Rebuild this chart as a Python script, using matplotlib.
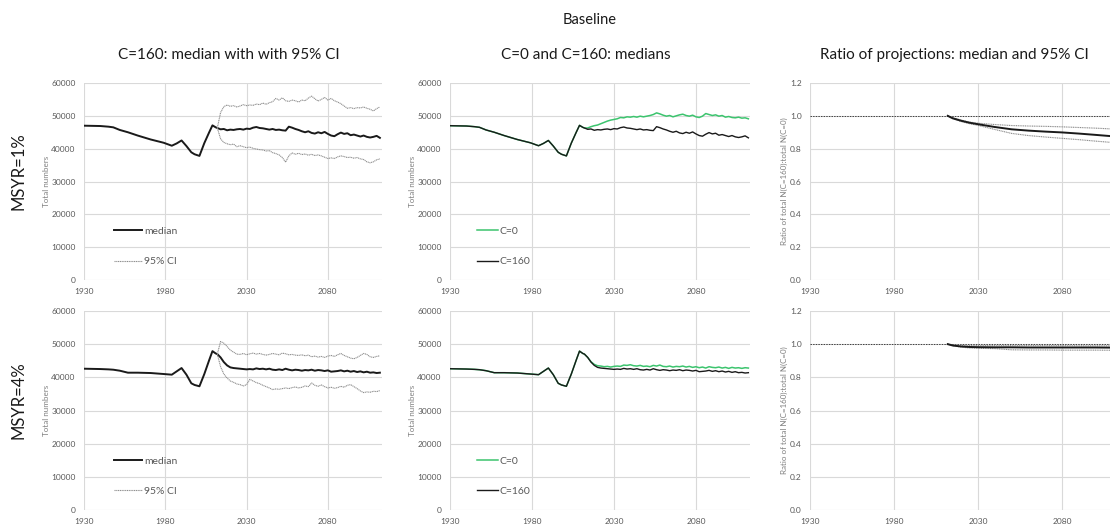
# ==========================================
# BASELINE PROJECTIONS - 2 x 3 PANEL FIGURE
# ==========================================

import matplotlib
matplotlib.use("Agg")
import matplotlib.pyplot as plt

plt.rcParams["font.family"] = ["Lato", "DejaVu Sans"]


# ==========================================
# DATA
# ==========================================

# historic part (same for C=0 and C=160)
hist_years = [1930, 1935, 1940, 1945, 1948, 1952, 1957, 1963, 1971, 1979,
              1984, 1987, 1990, 1993, 1996, 1998, 2001, 2004, 2007, 2009, 2011]
hist_msyr1 = [47000, 46950, 46900, 46700, 46500, 45700, 45000, 44000, 42800, 41800,
              40900, 41600, 42500, 40800, 38900, 38300, 37800, 41700, 45000, 47100, 46500]
hist_msyr4 = [42600, 42550, 42500, 42400, 42300, 42000, 41400, 41400, 41300, 41000,
              40800, 41800, 42800, 40800, 38200, 37700, 37300, 41000, 45200, 47900, 47200]

# projections, every 2 years
proj_years = list(range(2012, 2113, 2))

med_msyr1 = [46300, 45900, 46000, 45600, 45800, 45700, 45900, 46000, 45800, 46100,
             46000, 46400, 46600, 46300, 46200, 46000, 45800, 46000, 45700, 45800,
             45600, 45500, 46700, 46400, 46000, 45700, 45300, 45000, 45300, 44800,
             44600, 45000, 44700, 45100, 44500, 44000, 43800, 44400, 44900, 44500,
             44700, 44100, 44300, 44000, 43700, 44000, 43600, 43400, 43600, 43900, 43300]
up_msyr1 = [46300, 51000, 52800, 53300, 52900, 53100, 52700, 53000, 53400, 53100,
            53300, 53200, 53600, 53400, 53900, 53500, 54000, 54300, 55300, 54800,
            55500, 54600, 54400, 54800, 54600, 54200, 54800, 54600, 55400, 56000,
            55200, 54500, 55000, 55600, 54800, 55300, 54600, 54200, 53700, 53000,
            52300, 52500, 52200, 52500, 52400, 52700, 52300, 52000, 51500, 52200, 52700]
lo_msyr1 = [46300, 43000, 41900, 41500, 41200, 41400, 40600, 40900, 40600, 40300,
            40500, 40100, 39900, 39700, 39600, 39300, 39400, 38800, 38500, 38100,
            37300, 35900, 37800, 38700, 38300, 38600, 38200, 38400, 38000, 38300,
            37900, 38100, 37800, 37400, 37000, 37200, 37000, 37500, 37800, 37600,
            37300, 37400, 37100, 37300, 36900, 36700, 36000, 35700, 36000, 36600, 36900]
c0_msyr1 = [46300, 46300, 46700, 47000, 47200, 47600, 48000, 48400, 48700, 48900,
            49100, 49500, 49400, 49700, 49600, 49800, 49600, 49900, 49700, 49900,
            50100, 50400, 50900, 50600, 50200, 49900, 50100, 49700, 50000, 50300,
            50500, 50100, 49900, 50200, 49700, 49500, 49900, 50700, 50400, 50100,
            50300, 49900, 50100, 49600, 49800, 49500, 49400, 49600, 49300, 49400, 49100]

med_msyr4 = [47000, 46000, 44600, 43600, 43000, 42800, 42700, 42600, 42500, 42400,
             42500, 42400, 42700, 42500, 42600, 42400, 42600, 42300, 42200, 42400,
             42200, 42600, 42300, 42100, 42300, 42200, 42000, 42200, 42100, 42300,
             42000, 42200, 42100, 41900, 42100, 41700, 41800, 41900, 42100, 41800,
             42000, 41700, 41900, 41600, 41800, 41500, 41700, 41400, 41500, 41300, 41400]
up_msyr4 = [47000, 50800, 50300, 49300, 48200, 47600, 47000, 46900, 47200, 46800,
            47100, 47300, 47000, 47200, 46900, 46700, 46900, 47200, 47000, 46800,
            47300, 47100, 46800, 46900, 46700, 46600, 46800, 46500, 46700, 46200,
            46400, 46100, 46300, 46000, 46400, 46600, 46300, 46800, 47200, 46600,
            46200, 45800, 45600, 46000, 46600, 47200, 46900, 46200, 46000, 46300, 46500]
lo_msyr4 = [47000, 43200, 41000, 39800, 38900, 38500, 38000, 37800, 37400, 37800,
            39400, 38900, 38400, 38100, 37600, 37200, 36800, 36300, 36500, 36400,
            36600, 36800, 36600, 36900, 37100, 36800, 37000, 37400, 37200, 38300,
            37600, 37300, 37700, 37200, 36800, 37000, 36700, 36900, 37300, 37000,
            37600, 37800, 37200, 36600, 35900, 35400, 35600, 35500, 35800, 35700, 36000]
c0_msyr4 = [47000, 46000, 44700, 43900, 43500, 43400, 43200, 43300, 43100, 43300,
            43400, 43300, 43700, 43600, 43800, 43500, 43400, 43600, 43300, 43400,
            43200, 43600, 43400, 43700, 43300, 43200, 43400, 43100, 43300, 43200,
            43400, 43100, 43300, 43000, 43200, 42900, 43100, 42800, 43200, 43000,
            42900, 43100, 42800, 43000, 42700, 43000, 42800, 42900, 42700, 42900, 42800]

# ratio N(C=160) / N(C=0)
ratio_years = [2012, 2015, 2020, 2025, 2030, 2040, 2050, 2060, 2070, 2080, 2090, 2100, 2112]
ratio_med_msyr1 = [1.0, 0.985, 0.970, 0.958, 0.949, 0.932, 0.918, 0.910, 0.904, 0.899, 0.892, 0.884, 0.874]
ratio_up_msyr1 = [1.0, 0.988, 0.974, 0.962, 0.955, 0.947, 0.941, 0.938, 0.936, 0.933, 0.929, 0.925, 0.919]
ratio_lo_msyr1 = [1.0, 0.983, 0.965, 0.952, 0.942, 0.917, 0.893, 0.880, 0.871, 0.863, 0.855, 0.846, 0.836]
ratio_med_msyr4 = [1.0, 0.992, 0.986, 0.983, 0.982, 0.981, 0.981, 0.980, 0.980, 0.980, 0.980, 0.980, 0.979]
ratio_up_msyr4 = [1.0, 0.996, 0.993, 0.992, 0.992, 0.991, 0.991, 0.991, 0.991, 0.991, 0.990, 0.990, 0.990]
ratio_lo_msyr4 = [1.0, 0.990, 0.982, 0.977, 0.975, 0.973, 0.966, 0.965, 0.965, 0.964, 0.964, 0.964, 0.963]

row_labels = ["MSYR=1%", "MSYR=4%"]
col_titles = ["C=160: median with with 95% CI", "C=0 and C=160: medians",
              "Ratio of projections: median and 95% CI"]
x_ticks = [1930, 1980, 2030, 2080]


# ==========================================
# STYLE
# ==========================================

GRID = "#d9d9d9"
TICK = "#595959"
LABEL = "#7f7f7f"
GREEN = "#3cc46e"
CI_GREY = "#8c8c8c"


def style_axis(ax, ymax, ystep, ylabel, fmt):
    ax.set_xlim(1930, 2113)
    ax.set_ylim(0, ymax)
    ax.set_xticks(x_ticks)
    n = int(round(ymax / ystep)) + 1
    ax.set_yticks([i * ystep for i in range(n)])
    ax.set_yticklabels([fmt(i * ystep) for i in range(n)])
    ax.grid(True, color=GRID, linewidth=0.8)
    ax.set_axisbelow(True)
    for s in ax.spines.values():
        s.set_visible(False)
    ax.tick_params(length=0, labelsize=6, colors=TICK, pad=6)
    ax.set_ylabel(ylabel, fontsize=5.8, color=LABEL, labelpad=1)


# ==========================================
# FIGURE
# ==========================================

fig = plt.figure(figsize=(11.1, 5.24), dpi=100)

row_bottom = [0.4656, 0.0267]
row_height = [0.376, 0.3798]
col_left = [0.0757, 0.4054, 0.7297]
col_width = [0.268, 0.2703, 0.277]

rows = [
    (hist_msyr1, med_msyr1, up_msyr1, lo_msyr1, c0_msyr1,
     ratio_med_msyr1, ratio_up_msyr1, ratio_lo_msyr1),
    (hist_msyr4, med_msyr4, up_msyr4, lo_msyr4, c0_msyr4,
     ratio_med_msyr4, ratio_up_msyr4, ratio_lo_msyr4),
]

for r, (hist, med, up, lo, c0, rmed, rup, rlo) in enumerate(rows):
    axes = [fig.add_axes([col_left[c], row_bottom[r], col_width[c], row_height[r]])
            for c in range(3)]

    full_years = hist_years + proj_years
    full_med = hist + med
    full_c0 = hist + c0

    # --- panel 1: median with 95% CI
    ax = axes[0]
    style_axis(ax, 60000, 10000, "Total numbers", lambda v: f"{int(v)}")
    ax.plot(full_years, full_med, color="#1a1a1a", linewidth=1.4, label="median")
    ax.plot(proj_years, up, color=CI_GREY, linewidth=0.8, linestyle=(0, (1, 0.6)),
            label="95% CI")
    ax.plot(proj_years, lo, color=CI_GREY, linewidth=0.8, linestyle=(0, (1, 0.6)))
    ax.legend(loc="lower left", bbox_to_anchor=(0.1, 0.07), frameon=False,
              fontsize=7.5, labelcolor=TICK, handlelength=2.7, handletextpad=0.2,
              labelspacing=2.0, borderpad=0, borderaxespad=0)

    # --- panel 2: C=0 and C=160 medians
    ax = axes[1]
    style_axis(ax, 60000, 10000, "Total numbers", lambda v: f"{int(v)}")
    ax.plot(full_years, full_c0, color=GREEN, linewidth=1.1, label="C=0")
    ax.plot(full_years, full_med, color="#1a1a1a", linewidth=1.0, label="C=160")
    ax.legend(loc="lower left", bbox_to_anchor=(0.09, 0.07), frameon=False,
              fontsize=7.5, labelcolor=TICK, handlelength=2.0, handletextpad=0.2,
              labelspacing=2.0, borderpad=0, borderaxespad=0)

    # --- panel 3: ratio of projections
    ax = axes[2]
    style_axis(ax, 1.2, 0.2, "Ratio of total N(C=160):total N(C=0)", lambda v: f"{v:.1f}")
    ax.axhline(1.0, color="#404040", linewidth=0.7, linestyle=(0, (1.5, 1.2)))
    ax.plot(ratio_years, rup, color=CI_GREY, linewidth=0.8, linestyle=(0, (1, 0.6)))
    ax.plot(ratio_years, rlo, color=CI_GREY, linewidth=0.8, linestyle=(0, (1, 0.6)))
    ax.plot(ratio_years, rmed, color="#1a1a1a", linewidth=1.4)

    # row label
    fig.text(0.017, row_bottom[r] + row_height[r] * 0.5 + 0.02, row_labels[r],
             rotation=90, ha="center", va="center", fontsize=12, color="#1a1a1a")


# ==========================================
# TITLES
# ==========================================

fig.text(0.531, 0.962, "Baseline", ha="center", va="center", fontsize=10.5, color="#1a1a1a")
title_x = [0.206, 0.528, 0.860]
for c, t in enumerate(col_titles):
    fig.text(title_x[c], 0.895, t, ha="center", va="center", fontsize=11, color="#1a1a1a")


fig.savefig("out.png", dpi=100)
plt.close(fig)
print("[OK] saved out.png")
